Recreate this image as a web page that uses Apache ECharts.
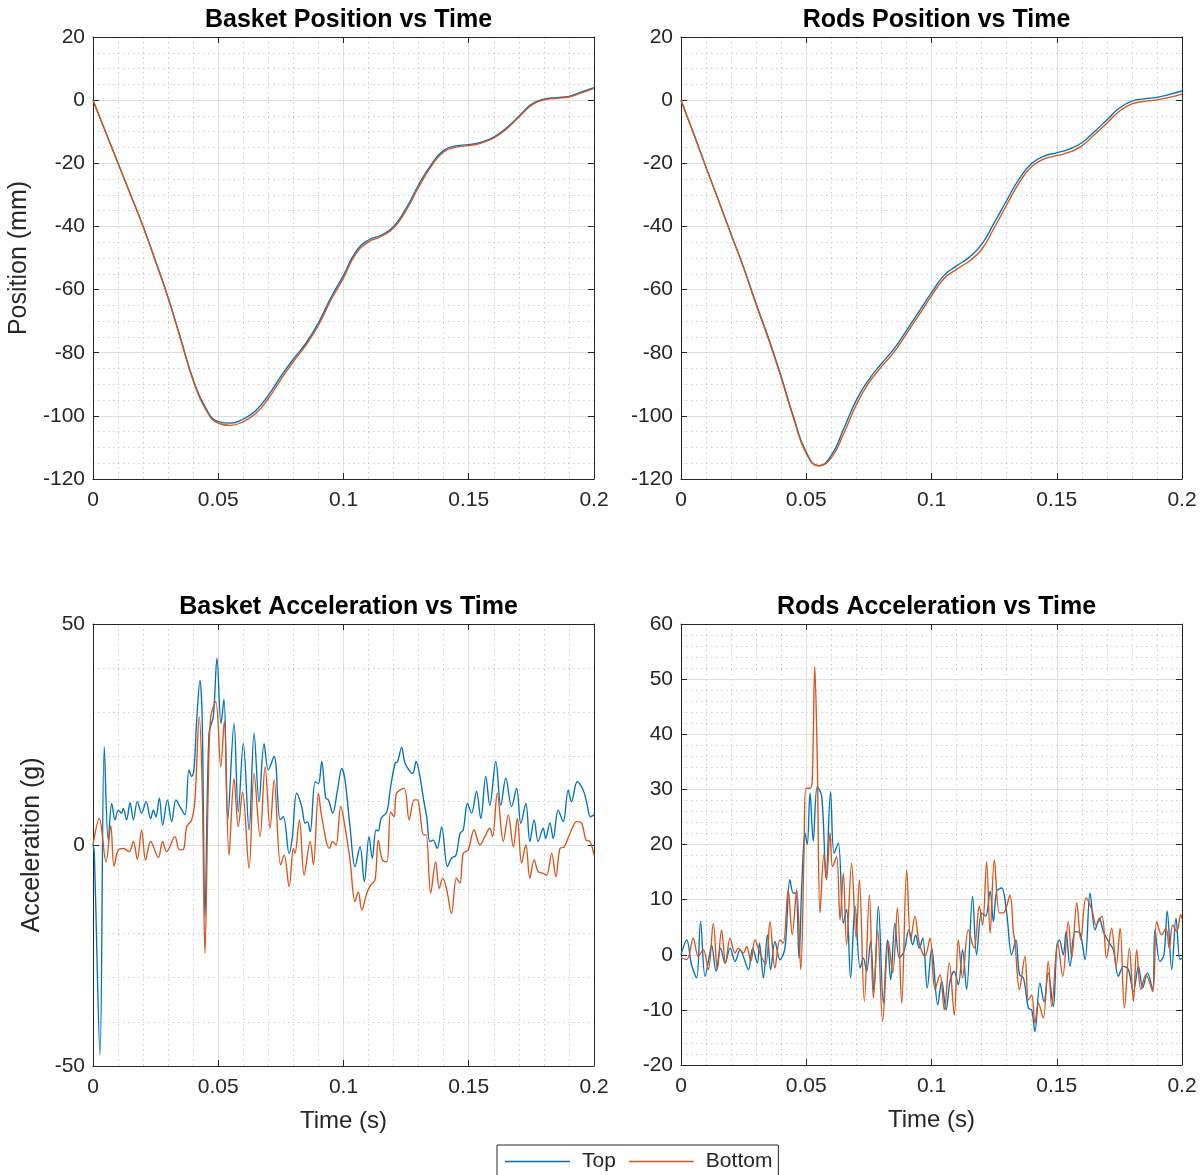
<!DOCTYPE html>
<html><head><meta charset="utf-8">
<script src="https://cdn.jsdelivr.net/npm/echarts@6/dist/echarts.min.js"></script>
<style>html,body{margin:0;padding:0;background:#fff}#c{width:1204px;height:1175px}</style>
</head><body><div id="c"></div><script>
// ---------- data ----------
const xTickLabels = ['0', '0.05', '0.1', '0.15', '0.2'];
const seriesNames = ['Top', 'Bottom'];
const titles = ['Basket Position vs Time', 'Rods Position vs Time', 'Basket Acceleration vs Time', 'Rods Acceleration vs Time'];

const posTime = [0, .005, .01, .015, .02, .025, .03, .035, .04, .045, .05, .055, .06, .065, .07, .075, .08, .085, .09, .095, .1, .105, .11, .115, .12, .125, .13, .135, .14, .145, .15, .155, .16, .165, .17, .175, .18, .185, .19, .195, .2];
const basketPosTop = [0, -10, -20, -30, -40, -51, -62.5, -75.5, -88.5, -97.5, -101.8, -102.3, -101, -98.3, -93.5, -87.5, -82, -77, -70.5, -62.5, -55.5, -47.9, -44.3, -42.8, -40, -34.3, -26.8, -20.4, -15.9, -14.5, -14.1, -13.3, -11.7, -8.8, -5.1, -1.3, 0.3, 0.8, 1.2, 2.6, 4.0];
const basketPosBottom = [0, -10, -20, -30, -40, -51.2, -62.8, -75.8, -88.9, -98, -102.3, -103, -101.8, -99.2, -94.5, -88.5, -82.8, -77.6, -71.3, -63.3, -56.3, -48.6, -44.9, -43.2, -40.5, -34.9, -27.6, -21, -16.4, -14.9, -14.4, -13.6, -12, -9.2, -5.4, -1.7, 0.1, 0.6, 1.0, 2.3, 3.7];
const rodsPosTop = [0, -10.5, -21.3, -31.8, -42.5, -53, -64.5, -75.5, -87.5, -100.5, -111.5, -115.8, -112.5, -104, -95, -88.5, -83.5, -78.8, -73, -67, -61, -55.5, -52.5, -49.8, -45.7, -38.9, -31.8, -24.9, -20.1, -17.7, -16.7, -15.5, -13.5, -10, -6.3, -2.5, -0.3, 0.4, 0.9, 1.8, 2.9];
const rodsPosBottom = [0, -10.5, -21.3, -31.8, -42.6, -53.2, -64.8, -75.9, -88, -100.9, -111.9, -115.8, -113.3, -105.5, -96.5, -89.5, -84.5, -79.8, -74, -68, -62, -56.5, -53.6, -51, -47.3, -40.5, -33.2, -26.2, -21, -18.6, -17.6, -16.5, -14.5, -11, -7.3, -3.5, -1.2, -0.4, 0.1, 0.9, 1.9];

// [time (s), acceleration (g)]
const basketAccTop = [[0,0],[0.0005,-1.5],[0.0028,-47.5],[0.0045,22.2],[0.0061,1.1],[0.0075,9.4],[0.0088,5.7],[0.0101,7.9],[0.0114,7.2],[0.0121,8.3],[0.0134,5.7],[0.0148,9.6],[0.0161,5.7],[0.0177,9.8],[0.0194,7.2],[0.0212,9.8],[0.0230,6.0],[0.0241,7.9],[0.0251,6.4],[0.0265,10.6],[0.0278,4.5],[0.0297,10.2],[0.0314,5.3],[0.0331,10.2],[0.0347,8.7],[0.0367,6.8],[0.0383,17.0],[0.0394,15.5],[0.0403,17.0],[0.0414,28.3],[0.0427,37.3],[0.0436,28.3],[0.0447,-16.2],[0.0463,25.3],[0.0480,29.0],[0.0495,42.2],[0.0511,27.5],[0.0523,33.0],[0.0538,5.7],[0.0563,27.5],[0.0580,7.5],[0.0600,23.0],[0.0623,3.4],[0.0643,25.3],[0.0663,9.8],[0.0683,22.9],[0.0700,17.0],[0.0723,20.1],[0.0747,5.7],[0.0760,6.4],[0.0783,-1.9],[0.0796,1.9],[0.0813,11.7],[0.0833,8.7],[0.0847,4.9],[0.0856,5.3],[0.0867,3.0],[0.0887,14.3],[0.0900,13.9],[0.0913,18.9],[0.0929,10.6],[0.0940,10.2],[0.0957,7.2],[0.0976,12.4],[0.0993,17.3],[0.1006,14.7],[0.1026,4.1],[0.1046,-4.9],[0.1066,-0.4],[0.1083,-8.3],[0.1102,1.9],[0.1115,-3.0],[0.1130,3.4],[0.1139,3.2],[0.1150,6.0],[0.1173,7.5],[0.1186,12.4],[0.1206,18.5],[0.1216,18.9],[0.1232,22.1],[0.1246,18.5],[0.1276,16.2],[0.1290,18.9],[0.1305,15.5],[0.1321,9.8],[0.1332,6.4],[0.1345,0.8],[0.1358,1.1],[0.1374,-0.8],[0.1392,4.1],[0.1415,-4.9],[0.1431,-3.0],[0.1449,-2.3],[0.1465,2.6],[0.1478,3.4],[0.1495,9.4],[0.1511,7.2],[0.1531,12.1],[0.1548,6.0],[0.1568,15.5],[0.1584,9.0],[0.1608,18.9],[0.1628,9.0],[0.1648,15.1],[0.1671,8.7],[0.1691,12.8],[0.1708,4.9],[0.1728,9.4],[0.1744,0.8],[0.1761,5.7],[0.1777,0.8],[0.1797,3.8],[0.1807,1.5],[0.1824,5.0],[0.1837,1.5],[0.1857,7.9],[0.1877,5.3],[0.1897,12.4],[0.1910,9.8],[0.1933,14.3],[0.1957,12.4],[0.1970,9.8],[0.1986,6.4],[0.2000,6.8]];
const basketAccBottom = [[0,0],[0.0025,6.0],[0.0052,-3.8],[0.0071,4.3],[0.0084,-4.8],[0.0101,-1.1],[0.0121,-0.8],[0.0145,-1.5],[0.0161,0.8],[0.0177,-3.2],[0.0194,3.4],[0.0210,-3.4],[0.0230,0.8],[0.0261,-2.8],[0.0278,0.8],[0.0294,-1.5],[0.0327,1.9],[0.0345,-1.1],[0.0361,-1.0],[0.0374,4.1],[0.0394,5.7],[0.0407,10.2],[0.0424,29.0],[0.0436,13.0],[0.0447,-24.5],[0.0460,13.0],[0.0470,29.0],[0.0490,32.4],[0.0510,17.7],[0.0524,28.0],[0.0543,-2.3],[0.0563,15.0],[0.0580,4.1],[0.0597,12.0],[0.0623,-5.3],[0.0643,16.2],[0.0667,1.9],[0.0687,17.7],[0.0707,3.8],[0.0723,14.7],[0.0749,-4.5],[0.0763,-2.3],[0.0783,-9.4],[0.0800,-0.8],[0.0806,-1.9],[0.0824,5.7],[0.0843,-6.8],[0.0867,0.8],[0.0880,-4.5],[0.0900,11.7],[0.0913,6.4],[0.0944,-0.8],[0.0957,0.8],[0.0970,0.0],[0.0989,8.7],[0.1006,4.1],[0.1026,-3.4],[0.1046,-12.8],[0.1059,-10.6],[0.1073,-14.7],[0.1093,-10.9],[0.1109,-9.0],[0.1126,-7.9],[0.1139,1.1],[0.1155,-3.4],[0.1173,-3.8],[0.1188,7.5],[0.1202,6.4],[0.1212,11.7],[0.1242,12.8],[0.1262,5.7],[0.1282,10.2],[0.1295,10.2],[0.1305,7.5],[0.1319,2.3],[0.1330,2.3],[0.1348,-10.9],[0.1368,-3.8],[0.1382,-9.8],[0.1396,-7.5],[0.1411,-9.8],[0.1431,-15.5],[0.1451,-7.5],[0.1465,-8.6],[0.1478,-1.9],[0.1498,-1.1],[0.1521,3.4],[0.1545,0.0],[0.1564,1.9],[0.1584,3.8],[0.1595,1.9],[0.1614,11.7],[0.1638,0.8],[0.1658,6.8],[0.1678,-0.4],[0.1694,6.0],[0.1711,-4.1],[0.1728,0.0],[0.1744,-7.5],[0.1761,-3.4],[0.1777,-6.0],[0.1797,-6.4],[0.1811,-6.8],[0.1831,-1.9],[0.1848,-7.2],[0.1864,-0.8],[0.1881,-0.4],[0.1904,2.6],[0.1931,5.3],[0.1951,4.9],[0.1968,1.1],[0.1984,0.8],[0.2000,-2.3]];
const rodsAccTop = [[0,0],[0.0023,2.7],[0.0042,-1.8],[0.0062,-4.2],[0.0078,6.0],[0.0096,-3.9],[0.0113,-0.3],[0.0122,1.8],[0.0140,-3.0],[0.0158,1.2],[0.0176,-1.5],[0.0196,1.2],[0.0216,-1.2],[0.0236,0.9],[0.0249,-0.3],[0.0269,-2.7],[0.0286,1.2],[0.0305,-1.5],[0.0313,2.1],[0.0329,-4.2],[0.0345,3.6],[0.0358,-2.7],[0.0375,2.4],[0.0395,-0.9],[0.0415,1.2],[0.0435,13.6],[0.0448,11.2],[0.0459,11.2],[0.0471,-0.6],[0.0482,12.4],[0.0495,22.1],[0.0504,20.0],[0.0515,29.3],[0.0528,20.6],[0.0544,30.5],[0.0562,28.7],[0.0579,13.9],[0.0597,29.6],[0.0611,18.4],[0.0628,20.3],[0.0648,5.7],[0.0661,8.2],[0.0677,-4.2],[0.0695,8.8],[0.0715,-2.4],[0.0728,-0.6],[0.0741,-3.0],[0.0757,2.4],[0.0770,-6.7],[0.0788,8.8],[0.0808,-8.8],[0.0824,2.7],[0.0837,-4.5],[0.0854,5.7],[0.0872,-0.6],[0.0890,0.6],[0.0910,4.5],[0.0925,1.8],[0.0937,3.6],[0.0951,1.2],[0.0965,3.0],[0.0983,-6.0],[0.1001,1.2],[0.1025,-9.1],[0.1041,-4.8],[0.1058,-10.0],[0.1074,-4.8],[0.1090,-3.0],[0.1107,-5.4],[0.1124,0.9],[0.1140,-6.3],[0.1164,10.6],[0.1180,0.0],[0.1200,7.6],[0.1216,7.0],[0.1234,11.5],[0.1247,6.0],[0.1260,11.5],[0.1280,12.1],[0.1300,7.6],[0.1320,0.0],[0.1337,2.7],[0.1351,-3.6],[0.1367,-4.2],[0.1387,-9.7],[0.1400,-10.0],[0.1413,-13.9],[0.1433,-5.1],[0.1449,-8.5],[0.1466,-3.3],[0.1486,-9.4],[0.1500,1.5],[0.1510,2.7],[0.1526,0.0],[0.1537,4.2],[0.1553,-2.1],[0.1573,4.2],[0.1593,3.9],[0.1613,-0.9],[0.1633,11.2],[0.1653,4.5],[0.1670,6.6],[0.1686,4.2],[0.1706,2.4],[0.1726,0.9],[0.1746,-3.9],[0.1766,-2.1],[0.1786,-2.7],[0.1806,-6.7],[0.1826,-2.1],[0.1843,-6.0],[0.1862,-3.3],[0.1883,-6.3],[0.1892,4.5],[0.1912,-1.2],[0.1928,0.0],[0.1941,7.9],[0.1959,-2.7],[0.1976,6.6],[0.1992,-0.9],[0.2000,-0.6]];
const rodsAccBottom = [[0,-0.5],[0.0023,-0.9],[0.0049,3.0],[0.0069,-0.3],[0.0089,0.9],[0.0109,-2.7],[0.0129,5.7],[0.0145,-2.7],[0.0162,4.5],[0.0178,-1.5],[0.0196,3.0],[0.0216,0.3],[0.0229,1.2],[0.0249,0.3],[0.0262,1.5],[0.0279,-1.2],[0.0295,2.7],[0.0315,0.3],[0.0338,-1.8],[0.0355,6.0],[0.0375,-2.4],[0.0395,2.7],[0.0408,2.1],[0.0428,11.8],[0.0444,3.6],[0.0462,11.8],[0.0478,-2.7],[0.0491,18.4],[0.0499,30.2],[0.0515,30.2],[0.0524,31.7],[0.0534,52.3],[0.0544,35.4],[0.0555,7.6],[0.0571,18.4],[0.0581,13.6],[0.0595,22.1],[0.0605,16.0],[0.0621,17.8],[0.0635,6.3],[0.0648,14.8],[0.0661,1.8],[0.0681,16.6],[0.0699,3.0],[0.0712,13.6],[0.0732,-8.5],[0.0752,10.9],[0.0768,-7.9],[0.0785,4.5],[0.0805,-12.1],[0.0828,2.4],[0.0845,-3.3],[0.0864,8.5],[0.0881,-8.8],[0.0901,15.4],[0.0917,2.7],[0.0934,7.0],[0.0951,2.1],[0.0974,-0.3],[0.0994,3.0],[0.1014,-6.3],[0.1034,-3.6],[0.1051,-10.0],[0.1071,-1.5],[0.1091,-10.9],[0.1107,2.7],[0.1124,-4.2],[0.1147,4.5],[0.1170,1.2],[0.1191,8.8],[0.1204,5.4],[0.1220,16.9],[0.1234,3.9],[0.1251,17.2],[0.1271,7.6],[0.1287,7.6],[0.1313,10.8],[0.1327,4.0],[0.1333,2.4],[0.1351,-6.3],[0.1373,-0.3],[0.1387,-8.2],[0.1400,-7.3],[0.1413,-12.4],[0.1427,-8.8],[0.1446,-11.5],[0.1466,-1.2],[0.1480,-9.4],[0.1504,2.1],[0.1524,-3.9],[0.1546,6.0],[0.1560,-0.6],[0.1580,9.4],[0.1596,2.7],[0.1617,10.3],[0.1640,8.2],[0.1657,5.4],[0.1680,7.0],[0.1699,-0.6],[0.1719,4.8],[0.1737,-2.1],[0.1753,4.8],[0.1770,-9.7],[0.1790,1.2],[0.1806,-8.5],[0.1819,0.9],[0.1836,-6.3],[0.1856,-3.6],[0.1883,-6.7],[0.1899,6.0],[0.1919,3.6],[0.1936,4.8],[0.1949,1.2],[0.1963,5.4],[0.1979,4.2],[0.1995,7.3],[0.2000,6.5]];

// ---------- layout / style ----------
const FONT = '"Liberation Sans", Arial, Helvetica, sans-serif';
const AX = '#262626';
const C_TOP = '#0072BD', C_BOT = '#D95319';
const grids = [
  {left: 93, top: 37, width: 501, height: 442},
  {left: 681, top: 37, width: 501, height: 442},
  {left: 93, top: 624, width: 501, height: 442},
  {left: 681, top: 624, width: 501, height: 441}
];
const yRanges = [
  {min: -120, max: 20, interval: 20, minor: 4},
  {min: -120, max: 20, interval: 20, minor: 4},
  {min: -50, max: 50, interval: 50, minor: 5},
  {min: -20, max: 60, interval: 10, minor: 5}
];
const yNames = ['Position (mm)', '', 'Acceleration (g)', ''];
const yNameGaps = [61, 0, 48, 0];
const xNames = ['', '', 'Time (s)', 'Time (s)'];

const minorLine = {show: true, lineStyle: {color: '#cbcbcb', width: 1, type: [1.5, 3.5]}};
const majorLine = {show: true, lineStyle: {color: '#dedede', width: 1}};

const xAxes = [], yAxes = [], series = [], titleOpts = [];
grids.forEach((g, i) => {
  xAxes.push({
    type: 'value', gridIndex: i, min: 0, max: 0.2, interval: 0.05,
    name: xNames[i], nameLocation: 'middle', nameGap: 43,
    nameTextStyle: {fontFamily: FONT, fontSize: 24, color: AX},
    axisLine: {show: true, onZero: false, lineStyle: {color: AX}},
    axisTick: {show: true, inside: true, length: 6, lineStyle: {color: AX}},
    axisLabel: {fontFamily: FONT, fontSize: 21, color: AX, margin: 11,
      formatter: v => xTickLabels[Math.round(v / 0.05)]},
    splitLine: majorLine,
    minorTick: {show: false, splitNumber: 5},
    minorSplitLine: minorLine
  });
  const r = yRanges[i];
  yAxes.push({
    type: 'value', gridIndex: i, min: r.min, max: r.max, interval: r.interval,
    name: yNames[i], nameLocation: 'middle', nameGap: yNameGaps[i],
    nameTextStyle: {fontFamily: FONT, fontSize: 25, color: AX},
    axisLine: {show: true, onZero: false, lineStyle: {color: AX}},
    axisTick: {show: true, inside: true, length: 6, lineStyle: {color: AX}},
    axisLabel: {fontFamily: FONT, fontSize: 21, color: AX, margin: 8},
    splitLine: majorLine,
    minorTick: {show: false, splitNumber: r.minor},
    minorSplitLine: minorLine
  });
  titleOpts.push({
    text: titles[i], left: g.left + g.width / 2, top: g.top - 34, textAlign: 'center',
    textStyle: {fontFamily: FONT, fontSize: 25, fontWeight: 'bold', color: '#000'}
  });
});
// mirrored box axes (top and right)
grids.forEach((g, i) => {
  xAxes.push({
    type: 'value', gridIndex: i, position: 'top', min: 0, max: 0.2, interval: 0.05,
    axisLine: {show: true, onZero: false, lineStyle: {color: AX}},
    axisTick: {show: true, inside: true, length: 6, lineStyle: {color: AX}},
    axisLabel: {show: false}, splitLine: {show: false}
  });
  const r = yRanges[i];
  yAxes.push({
    type: 'value', gridIndex: i, position: 'right', min: r.min, max: r.max, interval: r.interval,
    axisLine: {show: true, onZero: false, lineStyle: {color: AX}},
    axisTick: {show: true, inside: true, length: 6, lineStyle: {color: AX}},
    axisLabel: {show: false}, splitLine: {show: false}
  });
});

const zip = (ts, vs) => ts.map((t, k) => [t, vs[k]]);
const seriesData = [
  [zip(posTime, basketPosTop), zip(posTime, basketPosBottom), true],
  [zip(posTime, rodsPosTop), zip(posTime, rodsPosBottom), true],
  [basketAccTop, basketAccBottom, 0.35],
  [rodsAccTop, rodsAccBottom, 0.35]
];
seriesData.forEach((sd, i) => {
  [0, 1].forEach(j => {
    series.push({
      name: seriesNames[j], type: 'line', xAxisIndex: i, yAxisIndex: i,
      data: sd[j], symbol: 'none', smooth: sd[2], animation: false,
      lineStyle: {width: 1.35, color: j === 0 ? C_TOP : C_BOT},
      itemStyle: {color: j === 0 ? C_TOP : C_BOT}
    });
  });
});

const chart = echarts.init(document.getElementById('c'), null, {renderer: 'canvas'});
chart.setOption({
  backgroundColor: '#fff',
  animation: false,
  title: titleOpts,
  grid: grids.map(g => Object.assign({containLabel: false}, g)),
  xAxis: xAxes,
  yAxis: yAxes,
  legend: {
    data: seriesNames.map(n => ({name: n, icon: 'rect'})), left: 497, top: 1145, orient: 'horizontal',
    itemWidth: 65, itemHeight: 1.5, itemGap: 13,
    padding: [6, 6, 6, 8],
    borderColor: AX, borderWidth: 1, backgroundColor: '#fff',
    textStyle: {fontFamily: FONT, fontSize: 21, color: AX, padding: [0, 0, 0, 7]}
  },
  series: series
});
</script></body></html>
